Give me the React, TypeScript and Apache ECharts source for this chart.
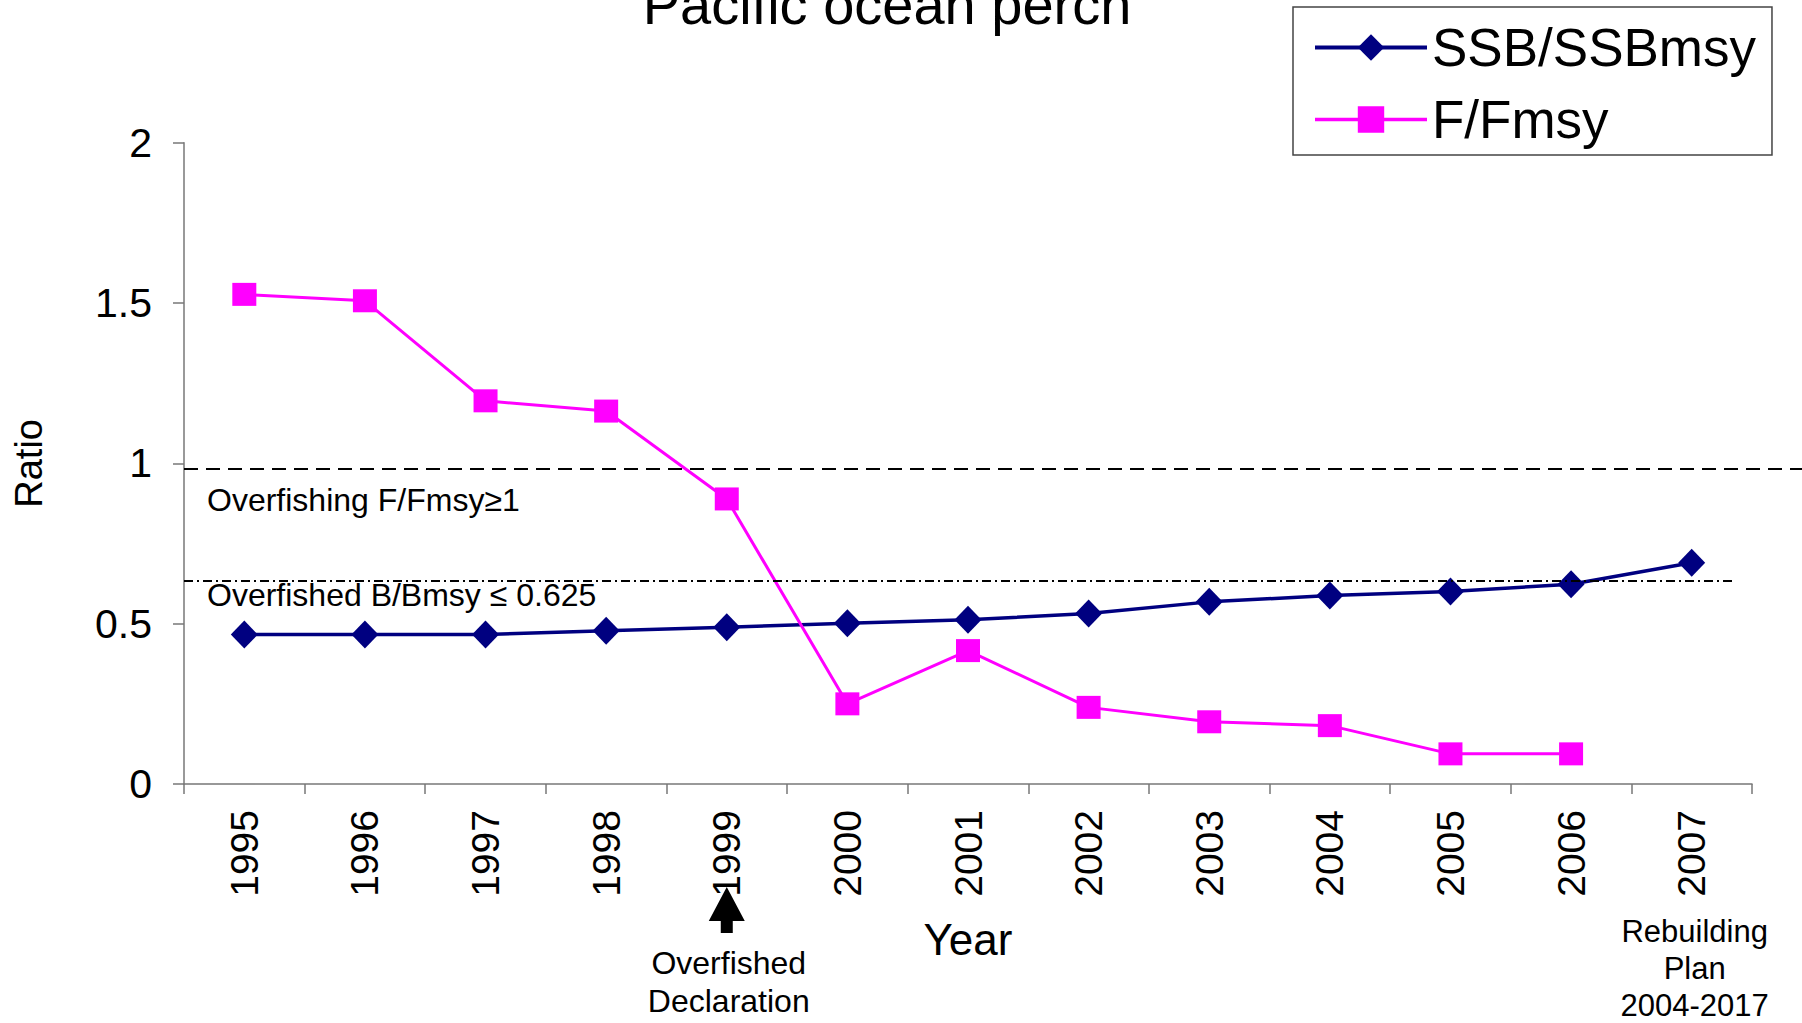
import React, { useEffect, useRef } from "react";
import * as echarts from "echarts";

const years = ["1995", "1996", "1997", "1998", "1999", "2000", "2001", "2002", "2003", "2004", "2005", "2006", "2007"];
const ssbRatio = [0.466, 0.466, 0.466, 0.478, 0.489, 0.501, 0.512, 0.532, 0.568, 0.588, 0.6, 0.623, 0.69];
const fRatio = [1.527, 1.507, 1.195, 1.163, 0.889, 0.25, 0.416, 0.239, 0.194, 0.182, 0.094, 0.094, null];
const yMin = 0;
const yMax = 2;
const yInterval = 0.5;
const overfishingLevel = 0.982;
const overfishedLevel = 0.634;
const declarationYear = "1999";
const rebuildingYear = "2007";

const FONT = "'Liberation Sans', Arial, Helvetica, sans-serif";
const GRID_LEFT = 184;
const GRID_RIGHT = 50;
const GRID_TOP = 142.7;
const GRID_BOTTOM = 239;

export default function App() {
  const ref = useRef<HTMLDivElement>(null);
  useEffect(() => {
    if (!ref.current) return;
    const chart = echarts.init(ref.current, null, { renderer: "svg" });
    const option: any = {
      animation: false,
      backgroundColor: "#ffffff",
      grid: { left: GRID_LEFT, right: GRID_RIGHT, top: GRID_TOP, bottom: GRID_BOTTOM, containLabel: false },
      legend: {
        orient: "vertical",
        left: 1293,
        top: 7,
        data: [
          { name: "SSB/SSBmsy", lineStyle: { width: 4, color: "#000080" } },
          { name: "F/Fmsy", lineStyle: { width: 3.5, color: "#FF00FF" } },
        ],
        lineStyle: { width: 3.5 },
        itemWidth: 112,
        itemHeight: 33,
        itemGap: 19,
        padding: [14, 16, 9, 20],
        borderColor: "#444",
        borderWidth: 1.5,
        borderRadius: 0,
        backgroundColor: "#fff",
        textStyle: { fontSize: 53, color: "#000", fontFamily: FONT },
      },
      xAxis: {
        type: "category",
        data: years,
        boundaryGap: true,
        name: "Year",
        nameLocation: "middle",
        nameGap: 133,
        nameTextStyle: { fontSize: 44, color: "#000", fontFamily: FONT },
        axisLine: { show: true, lineStyle: { color: "#777", width: 1.5 } },
        axisTick: { show: true, length: 10, lineStyle: { color: "#777", width: 1.5 }, alignWithLabel: false },
        axisLabel: { rotate: 90, fontSize: 39, color: "#000", fontFamily: FONT, margin: 26, interval: 0 },
        splitLine: { show: false },
      },
      yAxis: {
        type: "value",
        min: yMin,
        max: yMax,
        interval: yInterval,
        name: "Ratio",
        nameLocation: "middle",
        nameGap: 136,
        nameTextStyle: { fontSize: 38, color: "#000", fontFamily: FONT },
        axisLine: { show: true, lineStyle: { color: "#777", width: 1.5 } },
        axisTick: { show: true, length: 11, lineStyle: { color: "#777", width: 1.5 } },
        axisLabel: { fontSize: 41, color: "#000", fontFamily: FONT, margin: 32 },
        splitLine: { show: false },
      },
      series: [
        {
          name: "SSB/SSBmsy",
          type: "line",
          data: ssbRatio,
          symbol: "diamond",
          symbolSize: [27, 28],
          color: "#000080",
          lineStyle: { color: "#000080", width: 3.5 },
          itemStyle: { color: "#000080" },
          z: 3,
          markLine: {
            silent: true,
            symbol: "none",
            label: { show: false },
            animation: false,
            data: [
              [
                { x: GRID_LEFT, yAxis: overfishingLevel, lineStyle: { color: "#000", width: 2, type: [14, 8] } },
                { x: "100%", yAxis: overfishingLevel },
              ],
              [
                { x: GRID_LEFT, yAxis: overfishedLevel, lineStyle: { color: "#000", width: 1.8, type: [9, 4, 2, 4] } },
                { x: 1732, yAxis: overfishedLevel },
              ],
            ],
          },
        },
        {
          name: "F/Fmsy",
          type: "line",
          data: fRatio,
          symbol: "rect",
          symbolSize: [24, 23],
          color: "#FF00FF",
          lineStyle: { color: "#FF00FF", width: 3 },
          itemStyle: { color: "#FF00FF" },
          z: 4,
        },
      ],
    };
    chart.setOption(option);

    const declX = chart.convertToPixel({ xAxisIndex: 0 }, declarationYear) as number;
    const rebX = chart.convertToPixel({ xAxisIndex: 0 }, rebuildingYear) as number;

    chart.setOption({
      graphic: [
        {
          type: "text",
          x: 887,
          y: 4,
          style: { text: "Pacific ocean perch", font: `56px ${FONT}`, fill: "#000", align: "center", verticalAlign: "middle" },
        },
        {
          type: "text",
          x: 207,
          y: 500,
          style: { text: "Overfishing F/Fmsy\u22651", font: `32px ${FONT}`, fill: "#000", align: "left", verticalAlign: "middle" },
        },
        {
          type: "text",
          x: 207,
          y: 595,
          style: { text: "Overfished B/Bmsy \u2264 0.625", font: `32px ${FONT}`, fill: "#000", align: "left", verticalAlign: "middle" },
        },
        {
          type: "polygon",
          shape: {
            points: [
              [declX, 887],
              [declX + 18, 921],
              [declX + 6, 921],
              [declX + 6, 933],
              [declX - 6, 933],
              [declX - 6, 921],
              [declX - 18, 921],
            ],
          },
          style: { fill: "#000" },
        },
        {
          type: "text",
          x: declX + 2,
          y: 982,
          style: {
            text: "Overfished\nDeclaration",
            font: `32px ${FONT}`,
            lineHeight: 38,
            fill: "#000",
            align: "center",
            verticalAlign: "middle",
          },
        },
        {
          type: "text",
          x: rebX + 3,
          y: 968,
          style: {
            text: "Rebuilding\nPlan\n2004-2017",
            font: `31px ${FONT}`,
            lineHeight: 37,
            fill: "#000",
            align: "center",
            verticalAlign: "middle",
          },
        },
      ],
    });

    return () => chart.dispose();
  }, []);
  return (
    <div
      ref={ref}
      style={{ position: "fixed", left: 0, top: 0, width: 1802, height: 1023, background: "#fff" }}
    />
  );
}
